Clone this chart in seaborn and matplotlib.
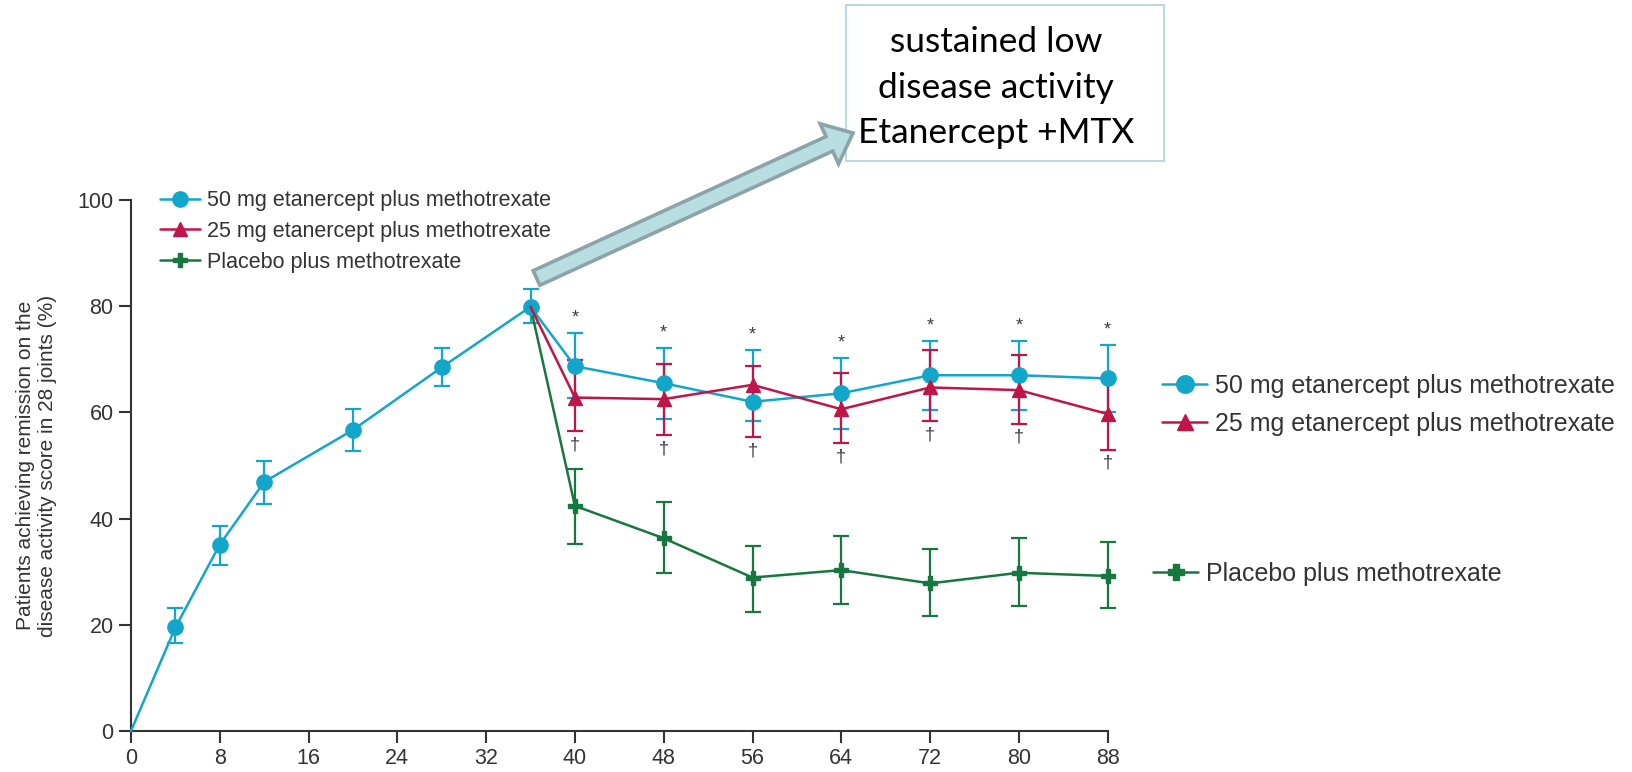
import numpy as np
import pandas as pd
import matplotlib
matplotlib.use("Agg")
import matplotlib.pyplot as plt
from matplotlib.lines import Line2D
from matplotlib.patches import FancyArrow, Rectangle
from matplotlib.transforms import IdentityTransform
import seaborn as sns

# ---- data: remission rates (%) with 95% CI bounds ----
weeks_50 = [0, 4, 8, 12, 20, 28, 36, 40, 48, 56, 64, 72, 80, 88]
pct_50 = [0, 19.5, 35.1, 46.9, 56.7, 68.5, 79.9, 68.7, 65.5, 62.0, 63.6, 67.0, 67.0, 66.4]
lo_50 = [np.nan, 16.5, 31.2, 42.7, 52.8, 65.0, 76.9, 62.7, 58.7, 58.3, 56.8, 60.5, 60.5, 60.1]
hi_50 = [np.nan, 23.1, 38.6, 50.9, 60.6, 72.1, 83.2, 75.0, 72.1, 71.7, 70.2, 73.5, 73.5, 72.7]

weeks_rand = [36, 40, 48, 56, 64, 72, 80, 88]
pct_25 = [79.9, 62.8, 62.5, 65.2, 60.6, 64.7, 64.2, 59.7]
lo_25 = [np.nan, 56.5, 55.7, 55.4, 54.2, 58.3, 57.9, 53.0]
hi_25 = [np.nan, 69.9, 69.1, 68.7, 67.5, 71.7, 70.9, 66.4]

pct_pl = [79.9, 42.4, 36.3, 28.9, 30.3, 27.8, 29.8, 29.2]
lo_pl = [np.nan, 35.3, 29.7, 22.4, 23.9, 21.7, 23.5, 23.1]
hi_pl = [np.nan, 49.3, 43.1, 34.9, 36.7, 34.2, 36.4, 35.6]

groups = ["50 mg etanercept plus methotrexate",
          "25 mg etanercept plus methotrexate",
          "Placebo plus methotrexate"]
x_ticks = [0, 8, 16, 24, 32, 40, 48, 56, 64, 72, 80, 88]
y_ticks = [0, 20, 40, 60, 80, 100]
y_label = "Patients achieving remission on the\ndisease activity score in 28 joints (%)"
box_text = "sustained low\ndisease activity\nEtanercept +MTX"

# ---- styling ----
sns.set_style("ticks")
plt.rcParams["font.family"] = ["Liberation Sans", "DejaVu Sans"]
DARK = "#333333"
colors = {groups[0]: "#12A7CA", groups[1]: "#BF1549", groups[2]: "#17783F"}
markers = {groups[0]: "o", groups[1]: "^", groups[2]: "P"}
msizes = {groups[0]: 11, groups[1]: 10, groups[2]: 9.5}

df = pd.concat([
    pd.DataFrame({"week": weeks_50, "pct": pct_50, "group": groups[0]}),
    pd.DataFrame({"week": weeks_rand, "pct": pct_25, "group": groups[1]}),
    pd.DataFrame({"week": weeks_rand, "pct": pct_pl, "group": groups[2]}),
], ignore_index=True)

fig = plt.figure(figsize=(16.33, 7.72), dpi=100)
ax = fig.add_axes([0.0802, 0.0531, 0.5981, 0.6878])

# confidence interval bars
ci = {
    groups[2]: (weeks_rand, pct_pl, lo_pl, hi_pl),
    groups[0]: (weeks_50, pct_50, lo_50, hi_50),
    groups[1]: (weeks_rand, pct_25, lo_25, hi_25),
}
for g, (w, p, lo, hi) in ci.items():
    w = np.asarray(w, float); p = np.asarray(p, float)
    lo = np.asarray(lo, float); hi = np.asarray(hi, float)
    m = ~np.isnan(lo)
    ax.errorbar(w[m], p[m], yerr=[p[m] - lo[m], hi[m] - p[m]], fmt="none",
                ecolor=colors[g], elinewidth=1.6, capsize=5.5, capthick=1.6,
                zorder=2, clip_on=False)

sns.lineplot(data=df, x="week", y="pct", hue="group", style="group",
             hue_order=[groups[2], groups[0], groups[1]],
             style_order=[groups[2], groups[0], groups[1]],
             palette=colors, markers=markers, dashes=False,
             estimator=None, errorbar=None, sort=True, legend=False,
             linewidth=1.8, markevery=slice(1, None), ax=ax, zorder=3)

for line, g in zip(ax.lines[-3:], [groups[2], groups[0], groups[1]]):
    line.set_markerfacecolor(colors[g])
    line.set_markeredgecolor(colors[g])
    line.set_markeredgewidth(1.0)
    line.set_markersize(msizes[g])
    line.set_clip_on(False)

# significance symbols above / below the etanercept groups
for i, w in enumerate(weeks_rand[1:], start=1):
    top = max(hi_50[weeks_50.index(w)], hi_25[i])
    bot = min(lo_50[weeks_50.index(w)], lo_25[i])
    ax.text(w, top + 1.2, "*", ha="center", va="bottom", fontsize=13, color="#3A3A4C")
    ax.text(w, bot - 1.0, "\u2020", ha="center", va="top", fontsize=13, color="#3A3A4C")

ax.set_xlim(0, 88)
ax.set_ylim(0, 100)
ax.set_xticks(x_ticks)
ax.set_yticks(y_ticks)
ax.set_xlabel("")
ax.set_ylabel(y_label, fontsize=15, color=DARK, linespacing=1.2)
ax.yaxis.set_label_coords(-0.076, 0.5)
for side in ("top", "right"):
    ax.spines[side].set_visible(False)
for side in ("left", "bottom"):
    ax.spines[side].set_color(DARK)
    ax.spines[side].set_linewidth(1.5)
ax.tick_params(axis="both", length=8.5, width=1.5, color=DARK, labelcolor=DARK,
               labelsize=15.5, pad=4)
ax.set_facecolor("white")
ax.grid(False)


def handle(g, scale=1.0):
    return Line2D([], [], color=colors[g], marker=markers[g], markersize=msizes[g] * scale,
                  markerfacecolor=colors[g], markeredgecolor=colors[g], linewidth=1.8)


# legend inside the plot (top-left)
fig.legend(handles=[handle(g) for g in groups], labels=groups,
           loc="upper left", bbox_to_anchor=(0.098, 0.7535), frameon=False,
           fontsize=15.5, handlelength=1.85, handletextpad=0.35, labelspacing=0.45,
           borderpad=0, borderaxespad=0, labelcolor=DARK)

# labels to the right of the curves
fig.legend(handles=[handle(g, 1.15) for g in groups[:2]], labels=groups[:2],
           loc="upper left", bbox_to_anchor=(0.7116, 0.5155), frameon=False,
           fontsize=18, handlelength=1.8, handletextpad=0.3, labelspacing=0.55,
           borderpad=0, borderaxespad=0, labelcolor=DARK)
fig.legend(handles=[handle(groups[2], 1.15)], labels=[groups[2]],
           loc="upper left", bbox_to_anchor=(0.7061, 0.2725), frameon=False,
           fontsize=18, handlelength=1.8, handletextpad=0.3,
           borderpad=0, borderaxespad=0, labelcolor=DARK)

# callout box with arrow (pixel coordinates)
px = IdentityTransform()
fig.add_artist(Rectangle((846, 772 - 161), 318, 156, transform=px, fill=True,
                         facecolor="white", edgecolor="#A9D6DE", linewidth=1.2))
fig.text(996 / 1633, 1 - 87.5 / 772, box_text, ha="center", va="center",
         fontsize=25.5, family=["Lato", "DejaVu Sans"], color="black", linespacing=1.52)
fig.add_artist(FancyArrow(536.5, 772 - 278, 316.5, 145, width=16, head_width=44,
                          head_length=26, length_includes_head=True,
                          facecolor="#B8DEE2", edgecolor="#8CA4A7", linewidth=2.6,
                          transform=px))

fig.savefig("out.png", dpi=100, facecolor="white")
